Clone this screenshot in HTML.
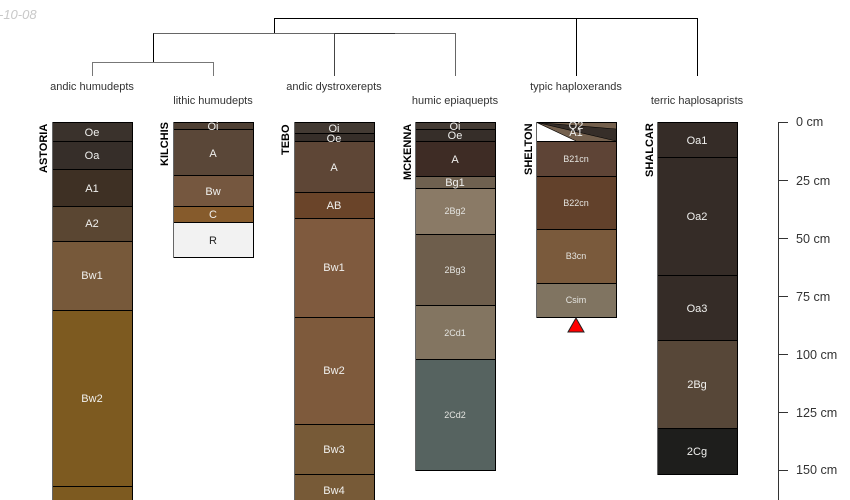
<!DOCTYPE html>
<html><head><meta charset="utf-8"><style>
html,body{margin:0;padding:0;background:#fff}
svg{display:block;font-family:"Liberation Sans",sans-serif}
.l{font-size:11px;fill:#f0f0ee;text-anchor:middle}
.s{font-size:9px;fill:#e4e4e0;text-anchor:middle}
.t{font-size:11px;fill:#333;text-anchor:middle}
.n{font-size:11px;font-weight:bold;fill:#000}
.a{font-size:12.600px;fill:#333}
</style></head><body>
<svg width="850" height="500" viewBox="0 0 850 500" xmlns="http://www.w3.org/2000/svg">
<text x="-1" y="19" font-size="13" font-style="italic" fill="#c8c8c8">-10-08</text>
<g fill="none" stroke-width="1" shape-rendering="crispEdges">
<path d="M274.500 33V18.500H697.500V76M576.500 18.500V76" stroke="#000"/>
<path d="M153 33.500H455.500V76" stroke="#666"/>
<path d="M334 33.500H395" stroke="#333"/>
<path d="M334.500 33.500V76" stroke="#444"/>
<path d="M153.500 62V33.500" stroke="#000"/>
<path d="M92.500 76V62.500H213.500V76" stroke="#777"/>
</g>
<text class="t" x="92" y="90">andic humudepts</text>
<text class="t" x="213" y="104">lithic humudepts</text>
<text class="t" x="334" y="90">andic dystroxerepts</text>
<text class="t" x="455" y="104">humic epiaquepts</text>
<text class="t" x="576" y="90">typic haploxerands</text>
<text class="t" x="697" y="104">terric haplosaprists</text>

<g shape-rendering="crispEdges" stroke="#000" stroke-width="1">
<rect x="52.500" y="122.500" width="80" height="19" fill="#3a322c"/>
<rect x="52.500" y="141.500" width="80" height="28" fill="#362e29"/>
<rect x="52.500" y="169.500" width="80" height="37" fill="#3e3024"/>
<rect x="52.500" y="206.500" width="80" height="35" fill="#5a4632"/>
<rect x="52.500" y="241.500" width="80" height="69" fill="#77593a"/>
<rect x="52.500" y="310.500" width="80" height="176" fill="#7d5a20"/>
<rect x="52.500" y="486.500" width="80" height="20" fill="#7d5a20"/>

<rect x="173.500" y="122.500" width="80" height="7" fill="#4e3f33"/>
<rect x="173.500" y="129.500" width="80" height="46" fill="#5a4738"/>
<rect x="173.500" y="175.500" width="80" height="31" fill="#75573f"/>
<rect x="173.500" y="206.500" width="80" height="16" fill="#865b2c"/>
<rect x="173.500" y="222.500" width="80" height="35" fill="#f2f2f2"/>

<rect x="294.500" y="122.500" width="80" height="11" fill="#433a33"/>
<rect x="294.500" y="133.500" width="80" height="8" fill="#362e29"/>
<rect x="294.500" y="141.500" width="80" height="51" fill="#5e4636"/>
<rect x="294.500" y="192.500" width="80" height="26" fill="#6a4429"/>
<rect x="294.500" y="218.500" width="80" height="99" fill="#7f5a3e"/>
<rect x="294.500" y="317.500" width="80" height="107" fill="#7e5a3c"/>
<rect x="294.500" y="424.500" width="80" height="50" fill="#775a37"/>
<rect x="294.500" y="474.500" width="80" height="32" fill="#775a37"/>

<rect x="415.500" y="122.500" width="80" height="7" fill="#433a33"/>
<rect x="415.500" y="129.500" width="80" height="12" fill="#362e29"/>
<rect x="415.500" y="141.500" width="80" height="35" fill="#3e2c25"/>
<rect x="415.500" y="176.500" width="80" height="12" fill="#6f6150"/>
<rect x="415.500" y="188.500" width="80" height="46" fill="#8a7a66"/>
<rect x="415.500" y="234.500" width="80" height="71" fill="#6e5e4c"/>
<rect x="415.500" y="305.500" width="80" height="54" fill="#837561"/>
<rect x="415.500" y="359.500" width="80" height="111" fill="#566360"/>

<rect x="536.500" y="122.500" width="80" height="19" fill="#74604d"/>
<rect x="536.500" y="141.500" width="80" height="35" fill="#5e4436"/>
<rect x="536.500" y="176.500" width="80" height="53" fill="#62412b"/>
<rect x="536.500" y="229.500" width="80" height="54" fill="#7a5a3c"/>
<rect x="536.500" y="283.500" width="80" height="34" fill="#807461"/>

<rect x="657.500" y="122.500" width="80" height="35" fill="#352c27"/>
<rect x="657.500" y="157.500" width="80" height="118" fill="#352c27"/>
<rect x="657.500" y="275.500" width="80" height="65" fill="#352c27"/>
<rect x="657.500" y="340.500" width="80" height="88" fill="#574738"/>
<rect x="657.500" y="428.500" width="80" height="46" fill="#1e1e1c"/>
</g>
<polygon points="537,122.500 616,129 616,141" fill="#362e29"/>
<polygon points="537,122.500 616,141 576,141" fill="#74604d"/>
<polygon points="537,123 576,141 537,141" fill="#fff"/>
<path d="M537 122.500L616 129M537 122.500L616 141M537 122.500L576 141" fill="none" stroke="#000" stroke-width="0.600"/>
<g stroke="#666" stroke-width="1" shape-rendering="crispEdges" fill="none">
<path d="M52.500 122V500M173.500 122V258M294.500 122V500M415.500 122V471M536.500 122V318M657.500 122V475"/>
</g>
<polygon points="576,318 584,332 568,332" fill="#f00" stroke="#222" stroke-width="1"/>

<text class="l" x="92" y="136">Oe</text>
<text class="l" x="92" y="159">Oa</text>
<text class="l" x="92" y="192">A1</text>
<text class="l" x="92" y="227">A2</text>
<text class="l" x="92" y="279">Bw1</text>
<text class="l" x="92" y="402">Bw2</text>

<text class="l" x="213" y="130">Oi</text>
<text class="l" x="213" y="157">A</text>
<text class="l" x="213" y="195">Bw</text>
<text class="l" x="213" y="218">C</text>
<text class="l" x="213" y="244" style="fill:#222">R</text>

<text class="l" x="334" y="132">Oi</text>
<text class="l" x="334" y="142">Oe</text>
<text class="l" x="334" y="171">A</text>
<text class="l" x="334" y="209">AB</text>
<text class="l" x="334" y="271">Bw1</text>
<text class="l" x="334" y="374">Bw2</text>
<text class="l" x="334" y="453">Bw3</text>
<text class="l" x="334" y="494">Bw4</text>

<text class="l" x="455" y="130">Oi</text>
<text class="l" x="455" y="139">Oe</text>
<text class="l" x="455" y="163">A</text>
<text class="l" x="455" y="186">Bg1</text>
<text class="s" x="455" y="214">2Bg2</text>
<text class="s" x="455" y="273">2Bg3</text>
<text class="s" x="455" y="336">2Cd1</text>
<text class="s" x="455" y="418">2Cd2</text>

<text class="l" x="576" y="129">O2</text>
<text class="l" x="576" y="136">A1</text>
<text class="s" x="576" y="162">B21cn</text>
<text class="s" x="576" y="206">B22cn</text>
<text class="s" x="576" y="259">B3cn</text>
<text class="s" x="576" y="303">Csim</text>

<text class="l" x="697" y="144">Oa1</text>
<text class="l" x="697" y="220">Oa2</text>
<text class="l" x="697" y="312">Oa3</text>
<text class="l" x="697" y="388">2Bg</text>
<text class="l" x="697" y="455">2Cg</text>

<text class="n" transform="translate(47,173) rotate(-90)">ASTORIA</text>
<text class="n" transform="translate(168,166) rotate(-90)">KILCHIS</text>
<text class="n" transform="translate(289,155) rotate(-90)">TEBO</text>
<text class="n" transform="translate(411,180) rotate(-90)">MCKENNA</text>
<text class="n" transform="translate(532,175) rotate(-90)">SHELTON</text>
<text class="n" transform="translate(653,177) rotate(-90)">SHALCAR</text>

<g stroke="#333" stroke-width="1" shape-rendering="crispEdges" fill="none">
<path d="M778.500 500V122.500H788M778 180.500H788M778 238.500H788M778 296.500H788M778 354.500H788M778 412.500H788M778 470.500H788"/>
</g>
<text class="a" x="796" y="126">0 cm</text>
<text class="a" x="796" y="185">25 cm</text>
<text class="a" x="796" y="243">50 cm</text>
<text class="a" x="796" y="301">75 cm</text>
<text class="a" x="796" y="359">100 cm</text>
<text class="a" x="796" y="417">125 cm</text>
<text class="a" x="796" y="474">150 cm</text>
</svg>
</body></html>
